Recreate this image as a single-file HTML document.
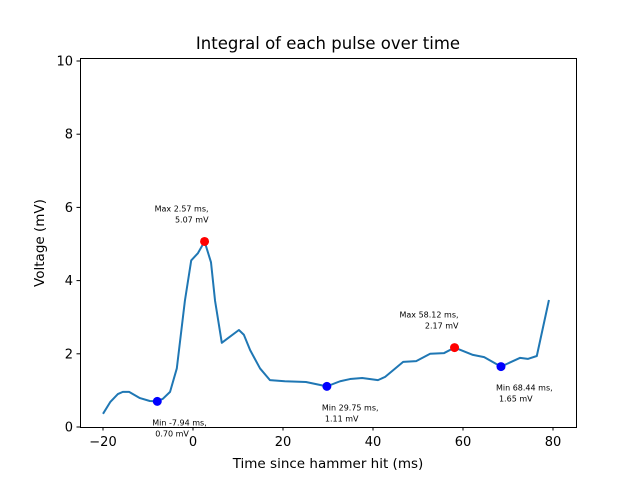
<!DOCTYPE html>
<html><head><meta charset="utf-8"><style>
body{margin:0;background:#fff}
svg text{font-family:"DejaVu Sans","Liberation Sans",sans-serif;fill:#000}
</style></head><body>
<svg id="chart" width="640" height="480" viewBox="0 0 640 480" xmlns="http://www.w3.org/2000/svg">
<rect width="640" height="480" fill="#fff"/>
<text x="328" y="49" font-size="16.5" text-anchor="middle">Integral of each pulse over time</text>
<g id="plot"></g>
<rect x="80.5" y="58.5" width="496" height="369" fill="none" stroke="#000" stroke-width="1"/>
<text x="328" y="468" font-size="13.5" text-anchor="middle">Time since hammer hit (ms)</text>
<text x="44" y="243" font-size="13.5" text-anchor="middle" transform="rotate(-90 44 243)">Voltage (mV)</text>
</svg>
<script>
const times=[-20,-18.4,-16.7,-15.6,-14.2,-11.8,-9.6,-7.94,-6.7,-5.1,-3.6,-1.8,-0.4,1.1,2.57,4.0,4.9,6.4,7.8,10.2,11.3,12.7,14.9,17.1,20.4,25.1,29.75,32.7,34.9,37.6,41.1,42.7,46.7,49.6,52.7,55.8,58.12,62.2,64.7,68.44,72.7,74.4,76.4,79.1];
const volts=[0.36,0.68,0.90,0.96,0.96,0.79,0.71,0.70,0.77,0.96,1.6,3.45,4.55,4.75,5.07,4.5,3.45,2.3,2.43,2.65,2.52,2.1,1.6,1.28,1.25,1.23,1.11,1.25,1.31,1.34,1.28,1.37,1.78,1.80,2.0,2.02,2.17,1.97,1.91,1.65,1.89,1.86,1.94,3.47];
const maxT=[2.57,58.12];
const maxV=[5.07,2.17];
const minT=[-7.94,29.75,68.44];
const minV=[0.70,1.11,1.65];
const xTicks=[-20,0,20,40,60,80];
const yTicks=[0,2,4,6,8,10];
const NS="http://www.w3.org/2000/svg";
const sx=t=>193+t*4.5;
const sy=v=>427-v*36.6;
const g=document.getElementById('plot');
function mk(tag,attrs){const e=document.createElementNS(NS,tag);for(const k in attrs)e.setAttribute(k,attrs[k]);g.appendChild(e);return e;}
xTicks.forEach(t=>{
 const l=mk('line',{x1:sx(t),x2:sx(t),y1:427,y2:430.5,stroke:'#000'});
 
 
 const tx=mk('text',{x:sx(t),y:446,'font-size':13,'text-anchor':'middle'});
 tx.textContent=(t<0?'\u2212'+(-t):t);
 
 
});
yTicks.forEach(v=>{
 const l=mk('line',{x1:76.5,x2:80,y1:sy(v),y2:sy(v),stroke:'#000'});
 
 
 const tx=mk('text',{x:73,y:sy(v)+4.5,'font-size':13,'text-anchor':'end'});
 tx.textContent=v;
 
 
});
const pl=mk('polyline',{points:times.map((t,i)=>sx(t)+','+sy(volts[i])).join(' '),fill:'none',stroke:'#1f77b4','stroke-width':2,'stroke-linejoin':'round'});


maxT.forEach((t,i)=>{
 const c=mk('circle',{cx:sx(t),cy:sy(maxV[i]),r:4.5,fill:'#ff0000'});
 
 
 const a=mk('text',{x:sx(t)+4,y:sy(maxV[i])-30,'font-size':8,'text-anchor':'end'});
 a.textContent='Max '+t.toFixed(2)+' ms,';
 
 
 const b=mk('text',{x:sx(t)+4,y:sy(maxV[i])-19,'font-size':8,'text-anchor':'end'});
 b.textContent=maxV[i].toFixed(2)+' mV';
 
 
});
minT.forEach((t,i)=>{
 const c=mk('circle',{cx:sx(t),cy:sy(minV[i]),r:4.5,fill:'#0000ff'});
 
 
 const a=mk('text',{x:sx(t)-5,y:sy(minV[i])+24,'font-size':8});
 a.textContent='Min '+t.toFixed(2)+' ms,';
 
 
 const b=mk('text',{x:sx(t)-2,y:sy(minV[i])+35,'font-size':8});
 b.textContent=minV[i].toFixed(2)+' mV';
 
 
});
</script>
</body></html>
